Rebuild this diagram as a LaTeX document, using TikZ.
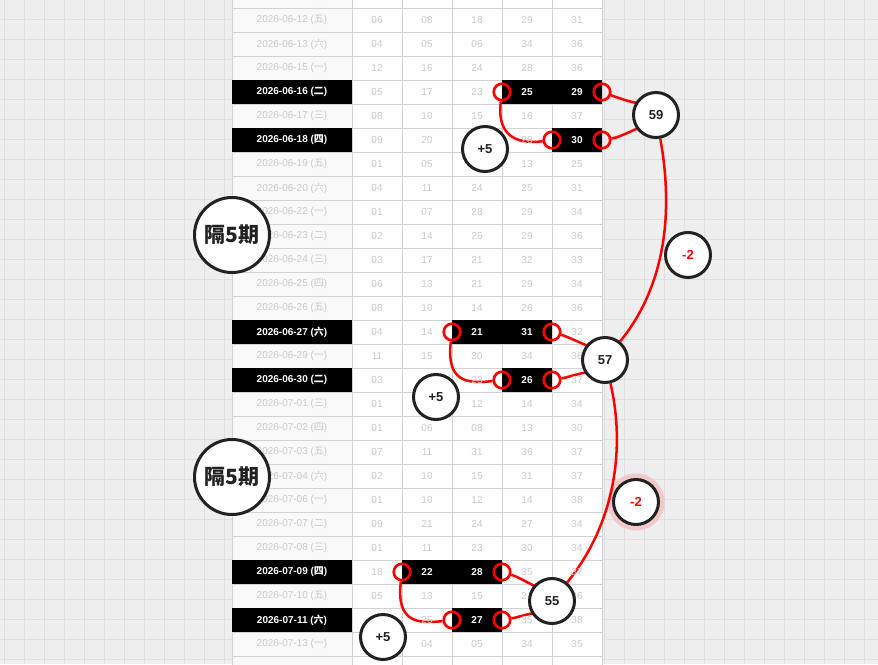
\documentclass[tikz,border=0pt]{standalone}
\usepackage{fontspec}
\setmainfont{Liberation Sans}
\newfontfamily\cjk{Noto Sans CJK SC}

\definecolor{bggrey}{HTML}{EEEEEE}
\definecolor{gridgrey}{HTML}{DFDFDF}
\definecolor{cellline}{HTML}{D2D2D2}
\definecolor{numgrey}{HTML}{C8C8C8}
\definecolor{datefill}{HTML}{F9F9F9}
\definecolor{glowpink}{HTML}{F2C8C8}
\definecolor{ink}{HTML}{222222}

\pgfdeclarelayer{back}
\pgfdeclarelayer{wires}
\pgfsetlayers{back,wires,main}

\tikzset{
  num/.style={font=\fontsize{10}{12}\selectfont, text=numgrey, inner sep=0pt},
  hlcell/.style={fill=black, text=white, font=\fontsize{10}{12}\selectfont\bfseries,
    minimum width=50.6pt, minimum height=24pt, inner sep=0pt},
  hldate/.style={hlcell, minimum width=120pt},
  ring/.style={circle, draw=red, line width=2.7pt, minimum size=16.5pt, inner sep=0pt},
  sumbub/.style={circle, draw=ink, text=ink, line width=3pt, fill=white, minimum size=45pt,
    inner sep=0pt, font=\fontsize{13}{15}\selectfont\bfseries},
  diffbub/.style={sumbub, text=red},
  gapbub/.style={sumbub, minimum size=75pt, font=\fontsize{21}{24}\selectfont\cjk\bfseries},
  wire/.style={red, line width=2.5pt},
}

\begin{document}
\begin{tikzpicture}[x=1pt,y=-1pt]
\useasboundingbox (0,0) rectangle (878,664);

\begin{pgfonlayer}{back}
  % background grid
  \fill[bggrey] (0,0) rectangle (878,664);
  \foreach \x in {4,24,...,864}
    \draw[gridgrey] (\x,0) -- (\x,664);
  \foreach \y in {19,39,...,659}
    \draw[gridgrey] (0,\y) -- (878,\y);
  % table
  \fill[datefill] (232,-16) rectangle (352,680);
  \fill[white] (352,-16) rectangle (602,680);
  \foreach \x in {232,352,402,452,502,552,602}
    \draw[cellline] (\x,-16) -- (\x,680);
  \foreach \y in {8,32,...,656}
    \draw[cellline] (232,\y) -- (602,\y);
  \fill[glowpink] (636,502) circle (28.5);
\end{pgfonlayer}

% draws
\foreach \dt/\wk/\va/\vb/\vc/\vd/\ve [count=\i from 0] in {
    06-11/四/{}/{}/{}/{}/{}, 06-12/五/06/08/18/29/31, 06-13/六/04/05/06/34/36,
    06-15/一/12/16/24/28/36, {}/{}/05/17/23/{}/{}, 06-17/三/08/10/15/16/37,
    {}/{}/09/20/{}/28/{}, 06-19/五/01/05/{}/13/25, 06-20/六/04/11/24/25/31,
    06-22/一/01/07/28/29/34, 06-23/二/02/14/25/29/36, 06-24/三/03/17/21/32/33,
    06-25/四/06/13/21/29/34, 06-26/五/08/10/14/26/36, {}/{}/04/14/{}/{}/32,
    06-29/一/11/15/30/34/36, {}/{}/03/{}/23/{}/37, 07-01/三/01/{}/12/14/34,
    07-02/四/01/06/08/13/30, 07-03/五/07/11/31/36/37, 07-04/六/02/10/15/31/37,
    07-06/一/01/10/12/14/38, 07-07/二/09/21/24/27/34, 07-08/三/01/11/23/30/34,
    {}/{}/18/{}/{}/35/37, 07-10/五/05/13/15/21/36, {}/{}/{}/25/{}/35/38,
    07-13/一/{}/04/05/34/35}
{
  \ifx\dt\empty\else
    \node[num] (d\i) at (292,{-4+24*\i}) {2026-\dt\ ({\cjk\wk})};
  \fi
  \node[num] (a\i) at (377,{-4+24*\i}) {\va};
  \node[num] (b\i) at (427,{-4+24*\i}) {\vb};
  \node[num] (c\i) at (477,{-4+24*\i}) {\vc};
  \node[num] (e\i) at (527,{-4+24*\i}) {\vd};
  \node[num] (f\i) at (577,{-4+24*\i}) {\ve};
}

% highlighted rows
\foreach \y/\dt/\wk in {92/06-16/二, 140/06-18/四, 332/06-27/六, 380/06-30/二, 572/07-09/四, 620/07-11/六}
  \node[hldate] (hd\y) at (292,\y) {2026-\dt\ ({\cjk\wk})};
\foreach \x/\y/\n in {527/92/25, 577/92/29, 577/140/30, 477/332/21, 527/332/31,
    527/380/26, 427/572/22, 477/572/28, 477/620/27}
  \node[hlcell] (h\n) at (\x,\y) {\n};

% rings
\node[ring] (r25) at (502,92) {};
\node[ring] (r29) at (602,92) {};
\node[ring] (r30a) at (552,140) {};
\node[ring] (r30b) at (602,140) {};
\node[ring] (r21) at (452,332) {};
\node[ring] (r31) at (552,332) {};
\node[ring] (r26a) at (502,380) {};
\node[ring] (r26b) at (552,380) {};
\node[ring] (r22) at (402,572) {};
\node[ring] (r28) at (502,572) {};
\node[ring] (r27a) at (452,620) {};
\node[ring] (r27b) at (502,620) {};

% bubbles
\node[sumbub] (s59) at (656,115) {59};
\node[sumbub] (s57) at (605,360) {57};
\node[sumbub] (s55) at (552,601) {55};
\node[diffbub] (dA) at (688,255) {-2};
\node[diffbub] (dB) at (636,502) {-2};
\node[sumbub] (pA) at (485,149) {+5};
\node[sumbub] (pB) at (436,397) {+5};
\node[sumbub] (pC) at (383,637) {+5};
\node[gapbub] (gA) at (232,235) {隔5期};
\node[gapbub] (gB) at (232,477) {隔5期};

\begin{pgfonlayer}{wires}
  \draw[wire] (r25) .. controls +(-6,48) and +(-30,4) .. (r30a);
  \draw[wire] (r29) .. controls +(22,8) and +(-10,-8) .. (s59);
  \draw[wire] (r30b) .. controls +(20,-3) and +(-10,8) .. (s59);
  \draw[wire] (s59) .. controls +(19,105) and +(57,-70) .. (s57);
  \draw[wire] (r21) .. controls +(-6,50) and +(-35,4) .. (r26a);
  \draw[wire] (r31) .. controls +(20,6) and +(-8,-8) .. (s57);
  \draw[wire] (r26b) .. controls +(18,-3) and +(-10,8) .. (s57);
  \draw[wire] (s57) .. controls +(21,90) and +(62,-76) .. (s55);
  \draw[wire] (r22) .. controls +(-6,50) and +(-35,4) .. (r27a);
  \draw[wire] (r28) .. controls +(20,6) and +(-8,-8) .. (s55);
  \draw[wire] (r27b) .. controls +(18,-3) and +(-10,8) .. (s55);
\end{pgfonlayer}
\end{tikzpicture}
\end{document}
